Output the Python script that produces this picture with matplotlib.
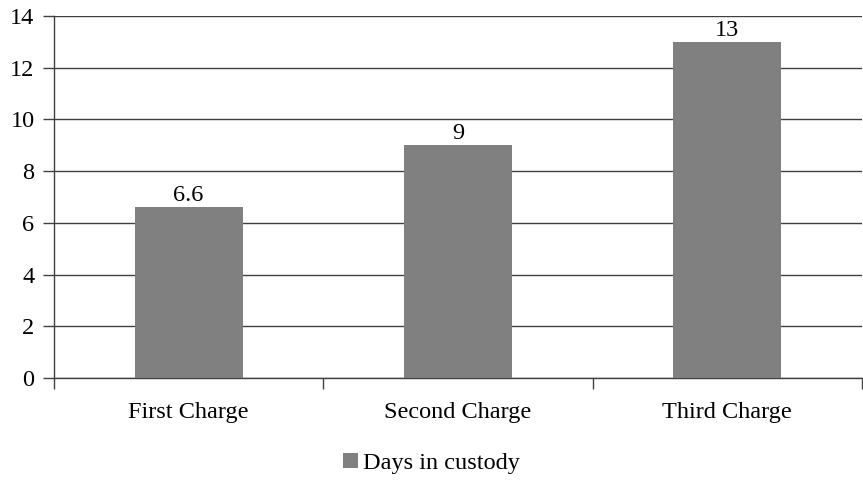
import matplotlib.pyplot as plt
from matplotlib.patches import Patch

categories = ['First Charge', 'Second Charge', 'Third Charge']
days = [6.6, 9, 13]
value_labels = ['6.6', '9', '13']

plt.rcParams['font.family'] = ['Liberation Serif', 'DejaVu Serif']
FS = 17.5

fig = plt.figure(figsize=(8.63, 4.8), dpi=100)
ax = fig.add_axes([0.0626, 0.2125, 0.936, 0.7542])

x = range(len(categories))
bars = ax.bar(x, days, width=0.4, color='#808080', zorder=3)
for b, lab in zip(bars, value_labels):
    ax.text(b.get_x() + b.get_width() / 2, b.get_height() + 0.05, lab,
            ha='center', va='bottom', fontsize=FS, color='black')

ax.set_ylim(0, 14)
ax.set_xlim(-0.5, 2.5)
ax.set_yticks(range(0, 15, 2))
ax.yaxis.grid(True, color='#404040', linewidth=1, zorder=0)
ax.tick_params(axis='y', labelsize=FS, length=8, width=1, color='#404040', pad=6)

# major ticks at category boundaries, labels in the middle
ax.set_xticks([-0.5, 0.5, 1.5, 2.5])
ax.set_xticklabels([])
ax.set_xticks(list(x), minor=True)
ax.set_xticklabels(categories, minor=True, fontsize=FS)
ax.tick_params(axis='x', which='major', length=8, width=1, color='#404040')
ax.tick_params(axis='x', which='minor', length=0, pad=17)

for s in ['top', 'right']:
    ax.spines[s].set_visible(False)
for s in ['left', 'bottom']:
    ax.spines[s].set_color('#404040')
    ax.spines[s].set_linewidth(1)

handle = Patch(facecolor='#808080', label='Days in custody')
fig.legend(handles=[handle], loc='center', bbox_to_anchor=(0.5, 0.035),
           frameon=False, fontsize=FS, handlelength=0.6, handleheight=0.6,
           handletextpad=0.2)

fig.savefig('out.png', dpi=100)
